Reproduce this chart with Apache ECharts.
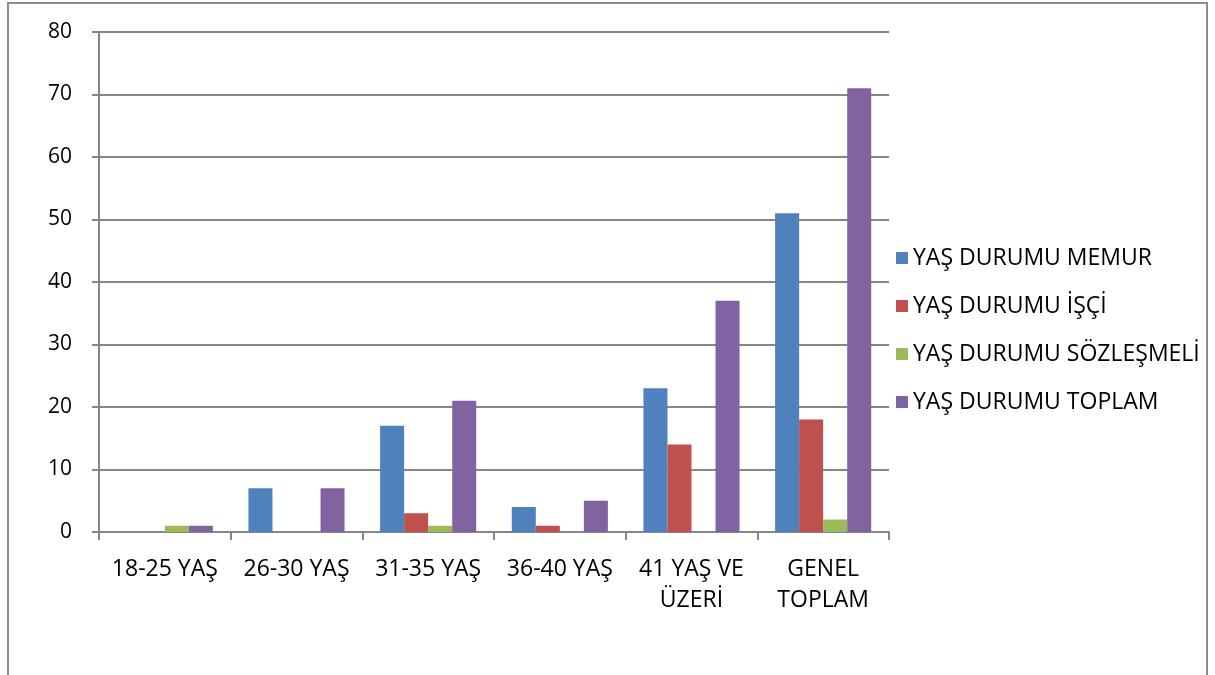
<!DOCTYPE html>
<html>
<head>
<meta charset="utf-8">
<script src="https://cdn.jsdelivr.net/npm/echarts@6/dist/echarts.min.js"></script>
<style>
html,body{margin:0;padding:0;background:#fff;}
#c{width:1215px;height:675px;}
</style>
</head>
<body>
<div id="c"></div>
<script>
var categories = ['18-25 YAŞ', '26-30 YAŞ', '31-35 YAŞ', '36-40 YAŞ', '41 YAŞ VE ÜZERİ', 'GENEL TOPLAM'];
var seriesNames = ['YAŞ DURUMU MEMUR', 'YAŞ DURUMU İŞÇİ', 'YAŞ DURUMU SÖZLEŞMELİ', 'YAŞ DURUMU TOPLAM'];
var memur = [0, 7, 17, 4, 23, 51];
var isci = [0, 0, 3, 1, 14, 18];
var sozlesmeli = [1, 0, 1, 0, 0, 2];
var toplam = [1, 7, 21, 5, 37, 71];
var yTicks = [0, 10, 20, 30, 40, 50, 60, 70, 80];
var colors = ['#4F81BD', '#C0504D', '#9BBB59', '#8064A2'];

var labelBreaks = {'41 YAŞ VE ÜZERİ': '41 YAŞ VE\nÜZERİ', 'GENEL TOPLAM': 'GENEL\nTOPLAM'};
var fontFam = '"Open Sans", "Noto Sans", sans-serif';

var chart = echarts.init(document.getElementById('c'));
var values = [memur, isci, sozlesmeli, toplam];
chart.setOption({
  animation: false,
  color: colors,
  textStyle: {fontFamily: fontFam},
  graphic: [{
    type: 'rect',
    shape: {x: 8, y: 3, width: 1199, height: 690},
    style: {fill: 'none', stroke: '#8c8c8c', lineWidth: 2}
  }],
  grid: {left: 99, right: 1215 - 889, top: 32, bottom: 675 - 532},
  legend: {
    orient: 'vertical',
    left: 891,
    top: 241,
    itemWidth: 12,
    itemHeight: 12,
    itemGap: 24,
    icon: 'rect',
    textStyle: {fontSize: 23, lineHeight: 24, color: '#000', fontFamily: fontFam},
    data: seriesNames
  },
  xAxis: {
    type: 'category',
    data: categories,
    axisLine: {lineStyle: {color: '#868686', width: 2}},
    axisTick: {show: true, length: 8, lineStyle: {color: '#868686', width: 2}},
    axisLabel: {
      color: '#000', fontSize: 23, margin: 22, lineHeight: 31, interval: 0,
      fontFamily: fontFam,
      formatter: function (v) { return labelBreaks[v] || v; }
    }
  },
  yAxis: {
    type: 'value',
    min: yTicks[0],
    max: yTicks[yTicks.length - 1],
    interval: 10,
    axisLine: {show: true, lineStyle: {color: '#868686', width: 2}},
    axisTick: {show: true, length: 7, lineStyle: {color: '#868686', width: 2}},
    axisLabel: {color: '#000', fontSize: 21, margin: 27, fontFamily: fontFam},
    splitLine: {lineStyle: {color: '#868686', width: 2}}
  },
  series: seriesNames.map(function (n, i) {
    return {
      name: n,
      type: 'bar',
      data: values[i],
      barGap: '0%',
      barCategoryGap: '27%',
      itemStyle: {color: colors[i]}
    };
  })
});
</script>
</body>
</html>
